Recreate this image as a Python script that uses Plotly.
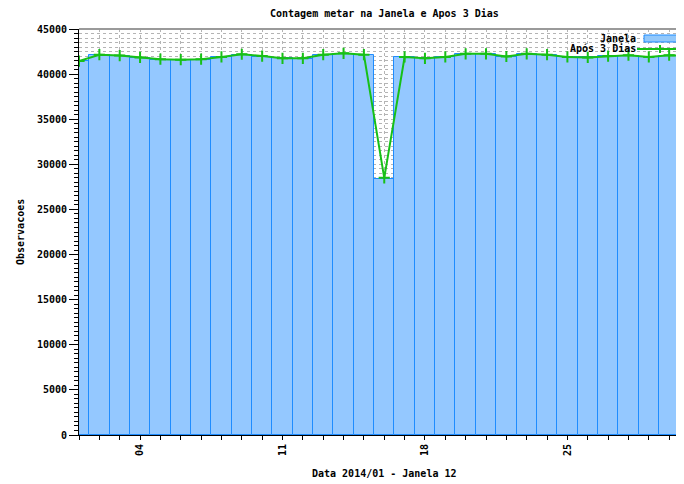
import plotly.graph_objects as go

# ---- data ----
days = list(range(1, 32))
janela = [41400, 42100, 42000, 41800, 41600, 41550, 41600, 41850, 42100, 41950,
          41750, 41700, 42100, 42250, 42100, 28350, 41900, 41750, 41900, 42200,
          42200, 41950, 42200, 42100, 41900, 41850, 42000, 42050, 41900, 42050,
          42000]
apos3 = [41450, 42150, 42050, 41850, 41650, 41600, 41650, 41900, 42200, 42000,
         41750, 41750, 42150, 42300, 42150, 28500, 41900, 41750, 41900, 42250,
         42250, 41950, 42250, 42150, 41900, 41850, 42000, 42100, 41900, 42100,
         42000]
tick_vals = [4, 11, 18, 25]
tick_text = ["04", "11", "18", "25"]

title_text = "Contagem metar na Janela e Apos 3 Dias"
xlabel = "Data 2014/01 - Janela 12"
ylabel = "Observacoes"
legend_names = ["Janela", "Após 3 Dias"]

# ---- layout geometry (pixels) ----
OFF = 8  # page body margin
W, H = 684 - OFF, 484 - OFF
ML, MR, MT = 79 - OFF, 0, 29 - OFF
PH = 406
MB = H - MT - PH
PW = W - ML - MR

def px(xs):
    return (xs - OFF - ML) / PW

def py(ys):
    return 1 - (ys - OFF - MT) / PH

FONT = dict(family="DejaVu Sans Mono", size=10, color="black", weight="bold")
GREEN = "#17c017"
BAR_LINE = "#1e8cff"
FILL = "#92c8fb"

fig = go.Figure()
fig.add_trace(go.Bar(
    x=days, y=janela, width=1, name=legend_names[0],
    marker=dict(color=FILL,
                line=dict(color=BAR_LINE, width=1),
                pattern=dict(shape=".", size=2, solidity=0.5,
                             fgcolor="#3d9bff", bgcolor="#d9ecff",
                             fillmode="replace")),
    showlegend=False,
))
fig.add_trace(go.Scatter(
    x=days, y=apos3, name=legend_names[1], mode="lines+markers",
    line=dict(color=GREEN, width=2),
    marker=dict(symbol="cross-thin", size=8,
                line=dict(color=GREEN, width=2), color=GREEN),
    showlegend=False, cliponaxis=True,
))

grid = dict(showgrid=True, gridcolor="#b4b4b4", griddash="dot", gridwidth=1)

fig.update_layout(
    width=W, height=H,
    margin=dict(l=ML, r=MR, t=MT, b=MB, autoexpand=False),
    paper_bgcolor="white", plot_bgcolor="white",
    font=FONT, bargap=0,
    xaxis=dict(range=[1, 1 + PW / 20.35], tickmode="array",
               tickvals=tick_vals, ticktext=tick_text, tickangle=-90,
               ticks="outside", ticklen=4, tickcolor="black",
               showline=True, linecolor="black", linewidth=1,
               zeroline=False, tickfont=FONT, automargin=False,
               minor=dict(tickmode="linear", tick0=1, dtick=1,
                          ticks="outside", ticklen=4, tickcolor="black",
                          **grid),
               **grid),
    yaxis=dict(range=[0, 45000], tick0=0, dtick=5000, tickformat="d",
               ticks="outside", ticklen=9, tickcolor="black",
               showline=True, linecolor="black", linewidth=1,
               zeroline=False, tickfont=FONT, automargin=False,
               minor=dict(tick0=0, dtick=500, ticks="outside", ticklen=4,
                          tickcolor="black", **grid),
               **grid),
)

# top border
fig.add_shape(type="line", xref="paper", yref="paper", x0=0, x1=1, y0=1, y1=1,
              line=dict(color="#9a9a9a", width=2))

# titles
fig.add_annotation(text=title_text, xref="x", yref="paper", x=16, y=py(13),
                   showarrow=False, font=FONT,
                   xanchor="center", yanchor="middle")
fig.add_annotation(text=xlabel, xref="x", yref="paper", x=16, y=py(473),
                   showarrow=False, font=FONT,
                   xanchor="center", yanchor="middle")
fig.add_annotation(text=ylabel, xref="paper", yref="paper", x=px(20), y=0.5,
                   textangle=-90, showarrow=False, font=FONT,
                   xanchor="center", yanchor="middle")

# legend (gnuplot style: text then sample)
fig.add_annotation(text=legend_names[0], xref="paper", yref="paper",
                   x=px(638), y=py(38.5), showarrow=False, font=FONT,
                   xanchor="right", yanchor="middle")
fig.add_annotation(text=legend_names[1], xref="paper", yref="paper",
                   x=px(638), y=py(48.5), showarrow=False, font=FONT,
                   xanchor="right", yanchor="middle")
fig.add_shape(type="rect", xref="paper", yref="paper",
              x0=px(644), x1=px(678), y0=py(42), y1=py(35),
              fillcolor=FILL, line=dict(color=BAR_LINE, width=1))
fig.add_shape(type="line", xref="paper", yref="paper",
              x0=px(637), x1=px(678), y0=py(49), y1=py(49),
              line=dict(color=GREEN, width=2))
fig.add_shape(type="line", xref="paper", yref="paper",
              x0=px(660), x1=px(660), y0=py(45), y1=py(53),
              line=dict(color=GREEN, width=2))

fig.write_html("out.html")
